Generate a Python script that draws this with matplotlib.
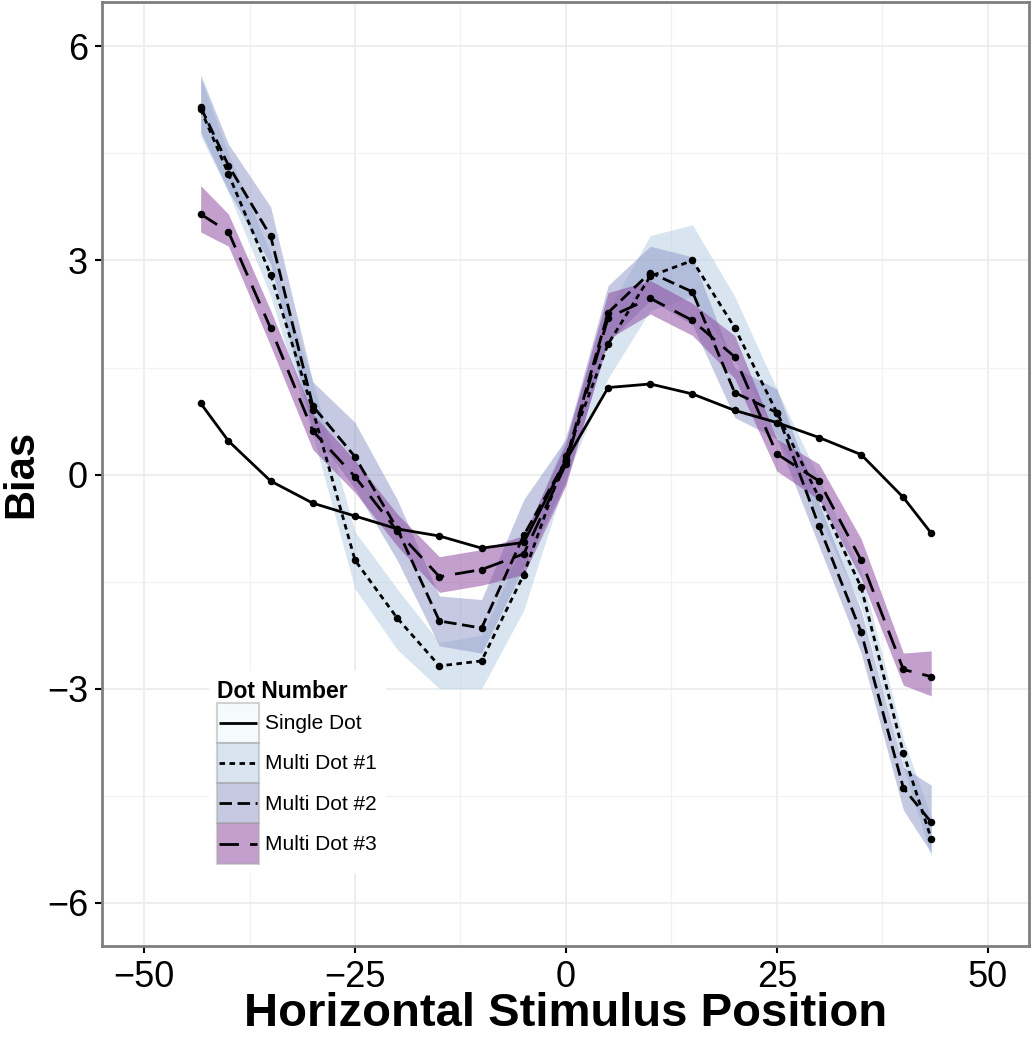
import matplotlib
matplotlib.use("Agg")
import matplotlib.pyplot as plt
from matplotlib.legend_handler import HandlerBase
from matplotlib.lines import Line2D
from matplotlib.patches import Rectangle

plt.rcParams["font.family"] = ["Liberation Sans", "DejaVu Sans"]

# ── Data ─────────────────────────────────────────────────────────────────────
x_pos = [-43.3, -40, -35, -30, -25, -20, -15, -10, -5, 0,
         5, 10, 15, 20, 25, 30, 35, 40, 43.3]

single = [1.00, 0.47, -0.09, -0.40, -0.58, -0.76, -0.86, -1.03, -0.95, 0.20,
          1.22, 1.27, 1.13, 0.90, 0.73, 0.52, 0.28, -0.32, -0.82]

multi1 = [5.12, 4.21, 2.80, 0.90, -1.20, -2.01, -2.68, -2.61, -1.40, 0.26,
          1.83, 2.78, 3.00, 2.06, 0.87, -0.32, -1.58, -3.90, -5.10]
multi1_lo = [4.75, 3.95, 2.50, 0.55, -1.60, -2.45, -3.00, -3.00, -1.90, -0.05,
             1.35, 2.30, 2.50, 1.60, 0.55, -0.60, -1.85, -4.10, -5.35]
multi1_hi = [5.55, 4.50, 3.10, 1.30, -0.80, -1.60, -2.35, -2.25, -0.95, 0.55,
             2.30, 3.35, 3.50, 2.50, 1.20, -0.05, -1.35, -3.70, -4.80]

multi2 = [5.15, 4.33, 3.34, 0.96, 0.25, -0.76, -2.05, -2.15, -0.85, 0.20,
          2.27, 2.83, 2.56, 1.15, 0.87, -0.72, -2.21, -4.39, -4.87]
multi2_lo = [4.80, 3.97, 2.95, 0.60, -0.20, -1.20, -2.40, -2.50, -1.30, -0.10,
             1.85, 2.45, 2.10, 0.80, 0.50, -1.00, -2.50, -4.70, -5.30]
multi2_hi = [5.60, 4.63, 3.75, 1.30, 0.73, -0.35, -1.70, -1.75, -0.35, 0.50,
             2.65, 3.20, 3.05, 1.50, 1.20, -0.40, -1.90, -4.10, -4.35]

multi3 = [3.65, 3.40, 2.05, 0.61, -0.03, -0.79, -1.43, -1.33, -1.11, 0.15,
          2.20, 2.47, 2.16, 1.65, 0.29, -0.09, -1.20, -2.73, -2.83]
multi3_lo = [3.40, 3.20, 1.80, 0.35, -0.25, -1.00, -1.65, -1.55, -1.40, -0.15,
             1.90, 2.25, 1.95, 1.35, 0.05, -0.35, -1.45, -2.95, -3.10]
multi3_hi = [4.05, 3.65, 2.30, 0.85, 0.20, -0.55, -1.15, -1.05, -0.85, 0.45,
             2.55, 2.72, 2.40, 1.95, 0.50, 0.15, -0.90, -2.50, -2.47]

labels = ["Single Dot", "Multi Dot #1", "Multi Dot #2", "Multi Dot #3"]
x_ticks = [-50, -25, 0, 25, 50]
y_ticks = [-6, -3, 0, 3, 6]

# ── Styling ──────────────────────────────────────────────────────────────────
fills = ["#edf8fb", "#b3cde3", "#8c96c6", "#88419d"]
dashes = [None, (2.0, 1.6), (4.5, 2.0), (7.0, 4.0)]
LW = 2.0


class LegendKey:
    """Fill colour + dash pattern for one ggplot-style legend key."""

    def __init__(self, color, dash):
        self.color = color
        self.dash = dash


class KeyHandler(HandlerBase):
    """Draw a filled square key with a centred line across it."""

    def create_artists(self, legend, orig_handle, xdescent, ydescent,
                       width, height, fontsize, trans):
        x0, y0 = -xdescent, -ydescent
        rect = Rectangle((x0, y0), width, height, facecolor=orig_handle.color,
                         alpha=0.5, edgecolor="#a8a8a8", linewidth=1.5,
                         transform=trans)
        yc = y0 + height / 2
        line = Line2D([x0 + 1, x0 + width - 1], [yc, yc], color="black",
                      lw=LW, solid_capstyle="butt", dash_capstyle="butt")
        if orig_handle.dash is not None:
            line.set_dashes(orig_handle.dash)
        line.set_transform(trans)
        return [rect, line]


fig = plt.figure(figsize=(10.33, 10.5), dpi=100)
ax = fig.add_axes([0.0987, 0.0993, 0.8975, 0.8987])

bands = [(multi1_lo, multi1_hi), (multi2_lo, multi2_hi), (multi3_lo, multi3_hi)]
for (lo, hi), col in zip(bands, fills[1:]):
    ax.fill_between(x_pos, lo, hi, color=col, alpha=0.5, linewidth=0, zorder=2)

for ys, dash in zip([single, multi1, multi2, multi3], dashes):
    line, = ax.plot(x_pos, ys, color="black", lw=LW, zorder=3,
                    solid_capstyle="butt", dash_capstyle="butt")
    if dash is not None:
        line.set_dashes(dash)
    ax.plot(x_pos, ys, "o", color="black", ms=4.4, zorder=4)

ax.set_xlim(-55, 54.9)
ax.set_ylim(-6.6, 6.62)
ax.set_xticks(x_ticks)
ax.set_yticks(y_ticks)
ax.set_xticks([-37.5, -12.5, 12.5, 37.5], minor=True)
ax.set_yticks([-4.5, -1.5, 1.5, 4.5], minor=True)
ax.grid(True, which="major", color="#ebebeb", lw=1.2, zorder=0)
ax.grid(True, which="minor", color="#f2f2f2", lw=0.9, zorder=0)
ax.set_axisbelow(True)

for sp in ax.spines.values():
    sp.set_color("#7f7f7f")
    sp.set_linewidth(2.0)

ax.tick_params(which="major", direction="out", length=5, width=1.5,
               color="black", labelsize=26, pad=5)
ax.tick_params(which="minor", length=0)

ax.set_xlabel("Horizontal Stimulus Position", fontsize=34, fontweight="bold", labelpad=-2)
ax.set_ylabel("Bias", fontsize=30, fontweight="bold", labelpad=4)

# ── Legend ───────────────────────────────────────────────────────────────────
keys = [LegendKey(col, dash) for col, dash in zip(fills, dashes)]
leg = ax.legend(keys, labels, title="Dot Number", loc="upper left",
                handler_map={LegendKey: KeyHandler()},
                bbox_to_anchor=(0.104, 0.302), fontsize=15, title_fontsize=16.5,
                handlelength=2.0, handleheight=2.6, labelspacing=0.0,
                handletextpad=0.3, borderpad=0.4, frameon=True,
                fancybox=False, edgecolor="white", framealpha=1.0)
leg.get_title().set_fontweight("bold")
leg._legend_box.align = "left"
leg.set_zorder(5)

fig.savefig("out.png", dpi=100)
